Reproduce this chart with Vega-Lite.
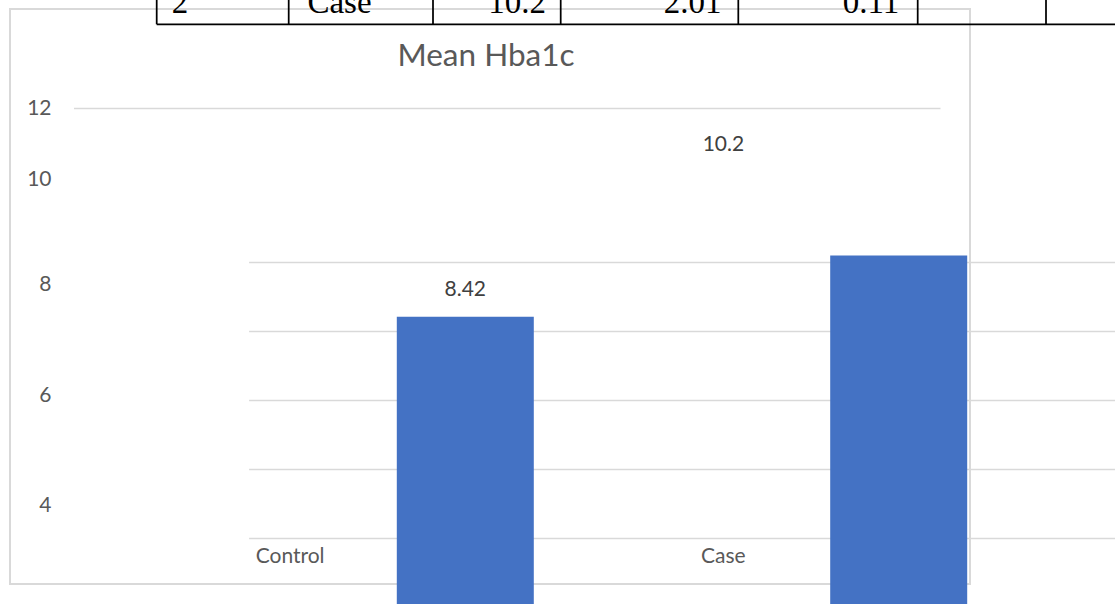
{
  "$schema": "https://vega.github.io/schema/vega-lite/v6.json",
  "width": 960,
  "height": 575,
  "autosize": {"type": "none"},
  "padding": {"left": 10, "top": 9, "right": 145, "bottom": 20},
  "background": "white",
  "title": {"text": "Mean Hba1c", "fontSize": 31.5, "font": "Lato", "fontWeight": "normal", "color": "#595959", "anchor": "middle", "frame": "group", "dx": -4, "baseline": "alphabetic", "offset": -111},
  "datasets": {
    "hba1c": [
      {"group": "Control", "mean": 8.42},
      {"group": "Case", "mean": 10.2}
    ],
    "tableRow": [
      {"col": 0, "cell": "2"},
      {"col": 1, "cell": "Case"},
      {"col": 2, "cell": "10.2"},
      {"col": 3, "cell": "2.01"},
      {"col": 4, "cell": "0.11"}
    ],
    "tableEdges": [
      {"edge": 0}, {"edge": 1}, {"edge": 2}, {"edge": 3}, {"edge": 4}, {"edge": 5}, {"edge": 6}
    ]
  },
  "layer": [
    {
      "data": {"name": "hba1c"},
      "transform": [{"filter": "datum.group === 'Case'"}],
      "mark": {"type": "text", "dy": -27, "baseline": "middle", "fontSize": 21, "color": "#404040"},
      "encoding": {
        "x": {
          "field": "group", "type": "nominal",
          "scale": {"type": "band", "domain": ["Control", "Case"], "range": [63.5, 930], "paddingInner": 0, "paddingOuter": 0},
          "axis": {"title": null, "orient": "bottom", "offset": -28, "labelBaseline": "middle", "labelPadding": 0, "ticks": false, "tickSize": 0, "domain": false, "grid": false, "labelAngle": 0, "labelFontSize": 21, "labelColor": "#595959"}
        },
        "y": {
          "field": "mean", "type": "quantitative",
          "scale": {"domain": [4, 6, 8, 10, 12], "range": [496, 386, 275, 170.5, 99], "nice": false, "zero": false},
          "axis": {"title": null, "orient": "left", "offset": -41, "values": [4, 6, 8, 10, 12], "labelPadding": 0, "ticks": false, "tickSize": 0, "domain": false, "grid": true, "gridColor": "#d9d9d9", "gridWidth": 1.5, "gridOpacity": {"condition": {"test": "datum.value === 12", "value": 1}, "value": 0}, "labelFontSize": 21, "labelColor": "#595959"}
        },
        "text": {"field": "mean", "type": "quantitative"}
      }
    },
    {
      "data": {"name": "hba1c"},
      "encoding": {
        "x": {
          "field": "group", "type": "nominal",
          "scale": {"type": "band", "domain": ["Control", "Case"], "range": [238.6, 1105.4], "paddingInner": 0, "paddingOuter": 0},
          "axis": null
        },
        "y": {
          "field": "mean", "type": "quantitative",
          "scale": {"domain": [0, 10], "range": [598, 253.3], "nice": false, "zero": false},
          "axis": {"title": null, "orient": "left", "values": [2, 4, 6, 8, 10], "labels": false, "ticks": false, "domain": false, "grid": true, "gridColor": "#d9d9d9", "gridWidth": 1.5}
        }
      },
      "layer": [
        {"mark": {"type": "bar", "size": 137, "color": "#4472C4"}},
        {
          "transform": [{"filter": "datum.group === 'Control'"}],
          "mark": {"type": "text", "dy": -27, "baseline": "middle", "fontSize": 21, "color": "#404040"},
          "encoding": {"text": {"field": "mean", "type": "quantitative"}}
        }
      ]
    },
    {
      "layer": [
        {
          "data": {"name": "tableEdges"},
          "encoding": {
            "x": {"field": "edge", "type": "quantitative", "scale": {"domain": [0, 1, 2, 3, 4, 5, 6, 7], "range": [146.7, 278.7, 423, 550.7, 728.3, 907.7, 1036, 1110], "nice": false, "zero": false}, "axis": null},
            "y": {"datum": 1, "type": "quantitative", "scale": {"domain": [0, 1], "range": [15.3, -9.5], "nice": false, "zero": false}, "axis": null}
          },
          "layer": [
            {
              "mark": {"type": "rule", "color": "black", "strokeWidth": 1.75},
              "encoding": {"y2": {"datum": 0}}
            },
            {
              "transform": [{"filter": "datum.edge === 0"}],
              "mark": {"type": "rule", "color": "black", "strokeWidth": 1.75},
              "encoding": {"y": {"datum": 0, "type": "quantitative"}, "x2": {"datum": 7}}
            }
          ]
        },
        {
          "data": {"name": "tableRow"},
          "mark": {"type": "text", "font": "Liberation Serif", "fontSize": 33, "baseline": "alphabetic", "dy": -11.5, "color": "black", "align": "center"},
          "encoding": {
            "x": {"field": "col", "type": "quantitative", "scale": {"domain": [0, 1, 2, 3, 4], "range": [170, 329.5, 507, 682.5, 861], "nice": false, "zero": false}, "axis": null},
            "y": {"datum": 0, "type": "quantitative", "axis": null},
            "text": {"field": "cell", "type": "nominal"}
          }
        }
      ],
      "resolve": {"scale": {"x": "independent"}}
    }
  ],
  "resolve": {"scale": {"x": "independent", "y": "independent"}, "axis": {"x": "independent", "y": "independent"}},
  "config": {
    "font": "Lato",
    "view": {"stroke": "#d9d9d9", "strokeWidth": 2}
  }
}
